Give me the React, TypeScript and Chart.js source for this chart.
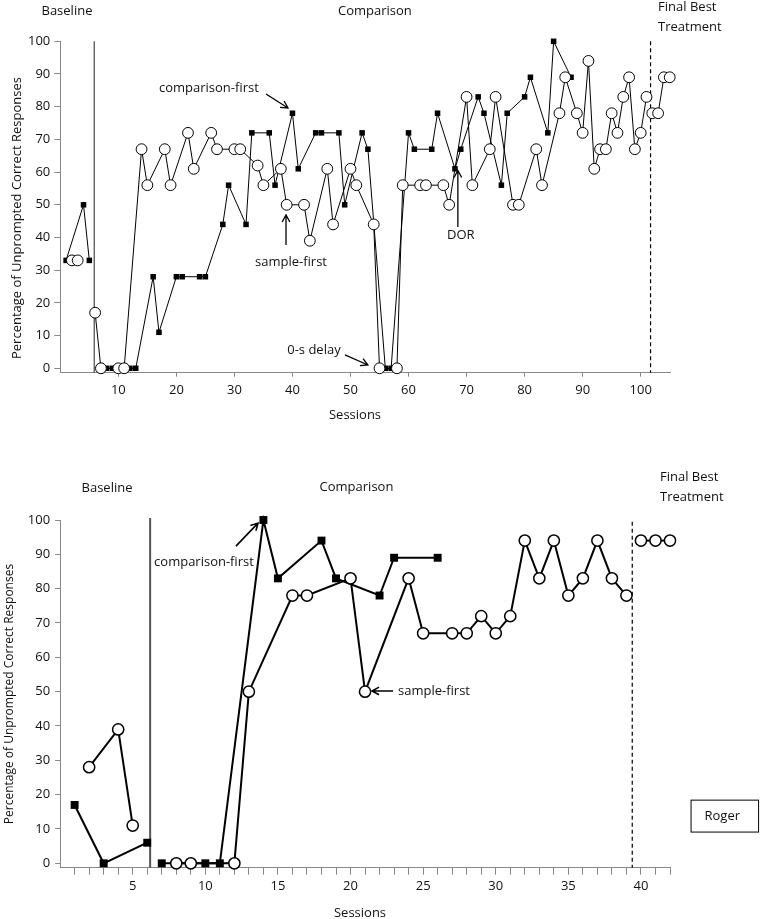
import React, { useEffect, useRef } from "react";
import { Chart, registerables } from "chart.js";
Chart.register(...registerables);

// ---------- Top panel data ----------
const topCompFirstSessions = [1, 4, 5, 8, 9, 12, 13, 16, 17, 20, 21, 24, 25, 28, 29, 32, 33, 36, 37, 40, 41, 44, 45, 48, 49, 52, 53, 56, 57, 60, 61, 64, 65, 68, 69, 72, 73, 76, 77, 80, 81, 84, 85, 88];
const topCompFirstValues = [33, 50, 33, 0, 0, 0, 0, 28, 11, 28, 28, 28, 28, 44, 56, 44, 72, 72, 56, 78, 61, 72, 72, 72, 50, 72, 67, 0, 0, 72, 67, 67, 78, 61, 67, 83, 78, 56, 78, 83, 89, 72, 100, 89];
const topSampleFirstSessions = [2, 3, 6, 7, 10, 11, 14, 15, 18, 19, 22, 23, 26, 27, 30, 31, 34, 35, 38, 39, 42, 43, 46, 47, 50, 51, 54, 55, 58, 59, 62, 63, 66, 67, 70, 71, 74, 75, 78, 79, 82, 83, 86, 87, 89, 90, 91, 92, 93, 94, 95, 96, 97, 98, 99, 100, 101, 102, 103, 104, 105];
const topSampleFirstValues = [33, 33, 17, 0, 0, 0, 67, 56, 67, 56, 72, 61, 72, 67, 67, 67, 62, 56, 61, 50, 50, 39, 61, 44, 61, 56, 44, 0, 0, 56, 56, 56, 56, 50, 83, 56, 67, 83, 50, 50, 67, 56, 78, 89, 78, 72, 94, 61, 67, 67, 78, 72, 83, 89, 67, 72, 83, 78, 78, 89, 89];
const topPhaseBreaks = [5.85, 101.7];
const topXTicks = [10, 20, 30, 40, 50, 60, 70, 80, 90, 100];

// ---------- Bottom panel data (Roger) ----------
const botCompFirstSessions = [1, 3, 6, 7, 10, 11, 14, 15, 18, 19, 22, 23, 26];
const botCompFirstValues = [17, 0, 6, 0, 0, 0, 100, 83, 94, 83, 78, 89, 89];
const botSampleFirstSessions = [2, 4, 5, 8, 9, 12, 13, 16, 17, 20, 21, 24, 25, 27, 28, 29, 30, 31, 32, 33, 34, 35, 36, 37, 38, 39, 40, 41, 42];
const botSampleFirstValues = [28, 39, 11, 0, 0, 0, 50, 78, 78, 83, 50, 83, 67, 67, 67, 72, 67, 72, 94, 83, 94, 78, 83, 94, 83, 78, 94, 94, 94];
const botPhaseBreaks = [6.2, 39.4];
const botXTicks = [1, 2, 3, 4, 5, 6, 7, 8, 9, 10, 11, 12, 13, 14, 15, 16, 17, 18, 19, 20, 21, 22, 23, 24, 25, 26, 27, 28, 29, 30, 31, 32, 33, 34, 35, 36, 37, 38, 39, 40, 41, 42];
const botXLabels = [5, 10, 15, 20, 25, 30, 35, 40];

const yTicks = [0, 10, 20, 30, 40, 50, 60, 70, 80, 90, 100];
const phaseNames = ["Baseline", "Comparison", "Final Best", "Treatment"];
const yTitle = "Percentage of Unprompted Correct Responses";
const xTitle = "Sessions";

const FONT = "'Open Sans', 'Noto Sans', sans-serif";

function splitByPhase(sessions: number[], values: number[], breaks: number[]) {
  const segs: { x: number; y: number }[][] = [];
  sessions.forEach((s, i) => {
    const phase = breaks.filter((b) => s > b).length;
    if (!segs[phase]) segs[phase] = [];
    segs[phase].push({ x: s, y: values[i] });
  });
  return segs.filter(Boolean);
}

function drawArrow(ctx: CanvasRenderingContext2D, x1: number, y1: number, x2: number, y2: number, lw: number) {
  ctx.save();
  ctx.strokeStyle = "#000";
  ctx.lineWidth = lw;
  ctx.setLineDash([]);
  ctx.beginPath();
  ctx.moveTo(x1, y1);
  ctx.lineTo(x2, y2);
  const a = Math.atan2(y2 - y1, x2 - x1);
  const h = 8;
  ctx.moveTo(x2 - h * Math.cos(a - 0.5), y2 - h * Math.sin(a - 0.5));
  ctx.lineTo(x2, y2);
  ctx.lineTo(x2 - h * Math.cos(a + 0.5), y2 - h * Math.sin(a + 0.5));
  ctx.stroke();
  ctx.restore();
}

type Lbl = { text: string; x: number; y: number; align?: CanvasTextAlign };
type Arr = { x1: number; y1: number; x2: number; y2: number };
type PanelCfg = {
  id: string;
  height: number;
  top: number;
  xMin: number;
  xMax: number;
  yMin: number;
  chartTop: number;
  chartLeft: number;
  chartRight: number;
  xAxisH: number;
  xTicks: number[];
  xLabelFilter: (v: number) => boolean;
  xTickLen: number;
  xTickPad: number;
  yTickLen: number;
  yTickPad: number;
  breaks: number[];
  phaseTop: number[];
  phaseWidth: number;
  labels: Lbl[];
  arrows: Arr[];
  arrowW: number;
  box?: { x1: number; x2: number; y1: number; y2: number; text: string; tx: number; ty: number };
  yTitleX: number;
  yTitleY: number;
  yTitleSize: number;
  xTitleX: number;
  xTitleY: number;
  lineW: number;
  circleR: number;
  circleBW: number;
  rectR: number;
  compS: number[];
  compV: number[];
  sampS: number[];
  sampV: number[];
  showYBorder: boolean;
};

const topCfg: PanelCfg = {
  id: "top",
  height: 440,
  top: 0,
  xMin: 0,
  xMax: 105.05,
  yMin: -1.35,
  chartTop: 41.3,
  chartLeft: 60.3,
  chartRight: 670,
  xAxisH: 440 - 372.7,
  xTicks: topXTicks,
  xLabelFilter: () => true,
  xTickLen: 4,
  xTickPad: 6,
  yTickLen: 6,
  yTickPad: 4,
  breaks: topPhaseBreaks,
  phaseTop: [100, 100],
  phaseWidth: 1.3,
  labels: [
    { text: phaseNames[0], x: 1.15, y: 109.3 },
    { text: phaseNames[1], x: 54.2, y: 109.3 },
    { text: phaseNames[2], x: 103.0, y: 110.3, align: "left" },
    { text: phaseNames[3], x: 103.0, y: 104.4, align: "left" },
    { text: "comparison-first", x: 25.6, y: 85.7 },
    { text: "sample-first", x: 39.75, y: 32.5 },
    { text: "DOR", x: 69.0, y: 40.8 },
    { text: "0-s delay", x: 43.7, y: 5.6 },
  ],
  arrows: [
    { x1: 35.44, y1: 83.9, x2: 39.23, y2: 79.6 },
    { x1: 38.89, y1: 37.7, x2: 38.89, y2: 46.9 },
    { x1: 68.5, y1: 43.2, x2: 68.5, y2: 60.5 },
    { x1: 49.05, y1: 4.1, x2: 53.0, y2: 1.0 },
  ],
  arrowW: 1.3,
  yTitleX: 17,
  yTitleY: 218,
  yTitleSize: 13,
  xTitleX: 355,
  xTitleY: 415,
  lineW: 1,
  circleR: 5.4,
  circleBW: 1,
  rectR: 3.9,
  compS: topCompFirstSessions,
  compV: topCompFirstValues,
  sampS: topSampleFirstSessions,
  sampV: topSampleFirstValues,
  showYBorder: true,
};

const botCfg: PanelCfg = {
  id: "bot",
  height: 479,
  top: 440,
  xMin: 0,
  xMax: 42,
  yMin: -1.28,
  chartTop: 80,
  chartLeft: 60.1,
  chartRight: 670,
  xAxisH: 479 - 427.7,
  xTicks: botXTicks,
  xLabelFilter: (v) => botXLabels.includes(v),
  xTickLen: 7,
  xTickPad: 4,
  yTickLen: 5,
  yTickPad: 5,
  breaks: botPhaseBreaks,
  phaseTop: [100.6, 99.5],
  phaseWidth: 2,
  labels: [
    { text: phaseNames[0], x: 3.23, y: 109.3 },
    { text: phaseNames[1], x: 20.41, y: 109.6 },
    { text: phaseNames[2], x: 41.31, y: 112.5, align: "left" },
    { text: phaseNames[3], x: 41.31, y: 106.7, align: "left" },
    { text: "comparison-first", x: 9.91, y: 87.8 },
    { text: "sample-first", x: 23.27, y: 50.2, align: "left" },
  ],
  arrows: [
    { x1: 12.11, y1: 92.4, x2: 13.63, y2: 99.1 },
    { x1: 22.93, y1: 50.2, x2: 21.48, y2: 50.2 },
  ],
  arrowW: 1.6,
  box: { x1: 43.45, x2: 48.1, y1: 18.4, y2: 9.1, text: "Roger", tx: 45.6, ty: 13.8 },
  yTitleX: 10,
  yTitleY: 254,
  yTitleSize: 12,
  xTitleX: 360,
  xTitleY: 473,
  lineW: 2,
  circleR: 5.6,
  circleBW: 1.5,
  rectR: 5.6,
  compS: botCompFirstSessions,
  compV: botCompFirstValues,
  sampS: botSampleFirstSessions,
  sampV: botSampleFirstValues,
  showYBorder: true,
};

function makeChart(canvas: HTMLCanvasElement, cfg: PanelCfg) {
  const circleStyle = {
    borderColor: "#000",
    borderWidth: cfg.lineW,
    pointStyle: "circle",
    pointRadius: cfg.circleR,
    pointBackgroundColor: "#fff",
    pointBorderColor: "#000",
    pointBorderWidth: cfg.circleBW,
    fill: false,
    tension: 0,
    clip: false as any,
  };
  const rectStyle = {
    borderColor: "#000",
    borderWidth: cfg.lineW,
    pointStyle: "rect",
    pointRadius: cfg.rectR,
    pointBackgroundColor: "#000",
    pointBorderColor: "#000",
    pointBorderWidth: 0,
    fill: false,
    tension: 0,
    clip: false as any,
  };
  const datasets: any[] = [
    ...splitByPhase(cfg.sampS, cfg.sampV, cfg.breaks).map((data) => ({ data, ...circleStyle })),
    ...splitByPhase(cfg.compS, cfg.compV, cfg.breaks).map((data) => ({ data, ...rectStyle })),
  ];

  const annot = {
    id: "annot_" + cfg.id,
    beforeDatasetsDraw(chart: any) {
      const { ctx, chartArea, scales } = chart;
      const x = scales.x, y = scales.y;
      ctx.save();
      cfg.breaks.forEach((b, i) => {
        const px = x.getPixelForValue(b);
        ctx.beginPath();
        if (i === 0) {
          ctx.strokeStyle = "#555";
          ctx.lineWidth = cfg.phaseWidth;
          ctx.setLineDash([]);
        } else {
          ctx.strokeStyle = "#000";
          ctx.lineWidth = 1.2;
          ctx.setLineDash([4, 3]);
        }
        ctx.moveTo(px, y.getPixelForValue(cfg.phaseTop[i]));
        ctx.lineTo(px, chartArea.bottom);
        ctx.stroke();
      });
      ctx.restore();
    },
    afterDraw(chart: any) {
      const { ctx, scales } = chart;
      const x = scales.x, y = scales.y;
      ctx.save();
      ctx.fillStyle = "#111";
      ctx.textBaseline = "middle";
      ctx.font = `13px ${FONT}`;
      cfg.labels.forEach((l) => {
        ctx.textAlign = l.align || "center";
        ctx.fillText(l.text, x.getPixelForValue(l.x), y.getPixelForValue(l.y));
      });
      cfg.arrows.forEach((a) =>
        drawArrow(ctx, x.getPixelForValue(a.x1), y.getPixelForValue(a.y1), x.getPixelForValue(a.x2), y.getPixelForValue(a.y2), cfg.arrowW)
      );
      if (cfg.box) {
        const b = cfg.box;
        const bx1 = x.getPixelForValue(b.x1), bx2 = x.getPixelForValue(b.x2);
        const by1 = y.getPixelForValue(b.y1), by2 = y.getPixelForValue(b.y2);
        ctx.strokeStyle = "#000";
        ctx.lineWidth = 1;
        ctx.strokeRect(bx1, by1, bx2 - bx1, by2 - by1);
        ctx.textAlign = "center";
        ctx.fillText(b.text, x.getPixelForValue(b.tx), y.getPixelForValue(b.ty));
      }
      ctx.textAlign = "center";
      ctx.fillText(xTitle, cfg.xTitleX, cfg.xTitleY);
      ctx.translate(cfg.yTitleX, cfg.yTitleY);
      ctx.rotate(-Math.PI / 2);
      ctx.font = `${cfg.yTitleSize}px ${FONT}`;
      ctx.fillText(yTitle, 0, 0);
      ctx.restore();
    },
  };

  return new Chart(canvas, {
    type: "line",
    data: { datasets },
    options: {
      animation: false,
      responsive: false,
      maintainAspectRatio: false,
      devicePixelRatio: 1,
      layout: { padding: { left: 0, top: cfg.chartTop, right: 760 - cfg.chartRight, bottom: 0 } },
      plugins: { legend: { display: false }, tooltip: { enabled: false }, title: { display: false } },
      scales: {
        x: {
          type: "linear",
          min: cfg.xMin,
          max: cfg.xMax,
          afterBuildTicks: (s: any) => {
            s.ticks = cfg.xTicks.map((v) => ({ value: v }));
          },
          afterFit: (s: any) => {
            s.height = cfg.xAxisH;
          },
          ticks: {
            autoSkip: false,
            maxRotation: 0,
            padding: cfg.xTickPad,
            color: "#111",
            font: { family: FONT, size: 13 },
            callback: (v: any) => (cfg.xLabelFilter(Number(v)) ? String(v) : ""),
          },
          grid: { drawOnChartArea: false, drawTicks: true, tickLength: cfg.xTickLen, color: "#888" },
          border: { display: true, color: "#888", width: 1 },
        },
        y: {
          type: "linear",
          min: cfg.yMin,
          max: 100,
          afterBuildTicks: (s: any) => {
            s.ticks = yTicks.map((v) => ({ value: v }));
          },
          afterFit: (s: any) => {
            s.width = cfg.chartLeft;
          },
          ticks: {
            padding: cfg.yTickPad,
            color: "#111",
            font: { family: FONT, size: 13 },
            callback: (v: any) => String(v),
          },
          grid: { drawOnChartArea: false, drawTicks: true, tickLength: cfg.yTickLen, color: "#888" },
          border: { display: cfg.showYBorder, color: "#888", width: 1 },
        },
      },
    } as any,
    plugins: [annot],
  });
}

function Panel({ cfg }: { cfg: PanelCfg }) {
  const ref = useRef<HTMLCanvasElement | null>(null);
  useEffect(() => {
    if (!ref.current) return;
    const c = makeChart(ref.current, cfg);
    return () => c.destroy();
  }, [cfg]);
  return (
    <canvas
      ref={ref}
      width={760}
      height={cfg.height}
      style={{ position: "absolute", left: 0, top: cfg.top, width: 760, height: cfg.height }}
    />
  );
}

export default function App() {
  return (
    <div style={{ position: "absolute", left: 0, top: 0, width: 760, height: 919, background: "#fff" }}>
      <Panel cfg={topCfg} />
      <Panel cfg={botCfg} />
    </div>
  );
}
